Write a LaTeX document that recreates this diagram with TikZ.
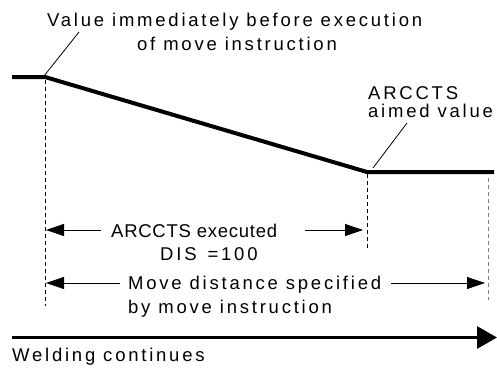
\documentclass[tikz,border=0pt]{standalone}
\usepackage{fontspec}
\setmainfont{Liberation Sans}
\newfontfamily\spaced[LetterSpace=15]{Liberation Sans}
\newfontfamily\tighter[LetterSpace=4]{Liberation Sans}
\usetikzlibrary{arrows.meta}
\begin{document}
\begin{tikzpicture}[x=1pt,y=-1pt,
  lbl/.style={inner sep=0pt, font=\fontsize{18.5}{22}\selectfont\spaced, anchor=base west},
  lblt/.style={inner sep=0pt, font=\fontsize{18.5}{22}\selectfont\tighter, anchor=base west},
  thin/.style={line width=0.8pt},
  dimarrow/.style={line width=0.8pt, -{Triangle[length=18pt,width=12pt]}},
  guide/.style={line width=0.8pt, dash pattern=on 4pt off 3pt},
  thick line/.style={line width=4pt},
  ]
\useasboundingbox (0,0) rectangle (497,369);
% profile
\coordinate (a0) at (12,77);
\coordinate (p1) at (45,77);
\coordinate (p2) at (367,172);
\coordinate (a3) at (494,172);
\draw[thick line] (a0) -- (p1) -- (p2) -- (a3);
% labels at top
\node[lbl] (v1) at (47,26.5) {Value immediately before execution};
\node[lbl] (v2) at (137,50.5) {of move instruction};
\coordinate (vl) at (79,32);
\coordinate (vs) at (44,76);
\draw[thin] (vs) -- (vl);
\node[lbl] (r1) at (368,99) {ARCCTS};
\node[lbl] (r2) at (368,117.5) {aimed value};
\coordinate (rl) at (407,123);
\coordinate (rs) at (373,168);
\draw[thin] (rs) -- (rl);
% guides
\coordinate (g1t) at (45,80);
\coordinate (g1b) at (45,306);
\coordinate (g2t) at (367,174);
\coordinate (g2b) at (367,248);
\coordinate (g3t) at (488,178);
\coordinate (g3b) at (488,300);
\draw[guide] (g1t) -- (g1b);
\draw[guide] (g2t) -- (g2b);
\draw[guide, gray] (g3t) -- (g3b);
% ARCCTS executed
\node[lblt] (e1) at (111,237) {ARCCTS executed};
\node[lbl] (e2) at (160,260) {DIS\, =100};
\coordinate (e1l) at (101,230);
\coordinate (e1le) at (46,230);
\coordinate (e1r) at (305,230);
\coordinate (e1re) at (363,230);
\draw[dimarrow] (e1l) -- (e1le);
\draw[dimarrow] (e1r) -- (e1re);
% Move distance
\node[lbl] (m1) at (128,289.5) {Move distance specified};
\node[lbl] (m2) at (128,313) {by move instruction};
\coordinate (m1l) at (120,283);
\coordinate (m1le) at (46,283);
\coordinate (m1r) at (391,283);
\coordinate (m1re) at (485,283);
\draw[dimarrow] (m1l) -- (m1le);
\draw[dimarrow] (m1r) -- (m1re);
% welding
\coordinate (w0) at (12,337.5);
\coordinate (w1) at (497,337.5);
\draw[line width=3pt, -{Triangle[length=20pt,width=22pt]}] (w0) -- (w1);
\node[lbl] (wt) at (12,361.5) {Welding continues};
\end{tikzpicture}
\end{document}
